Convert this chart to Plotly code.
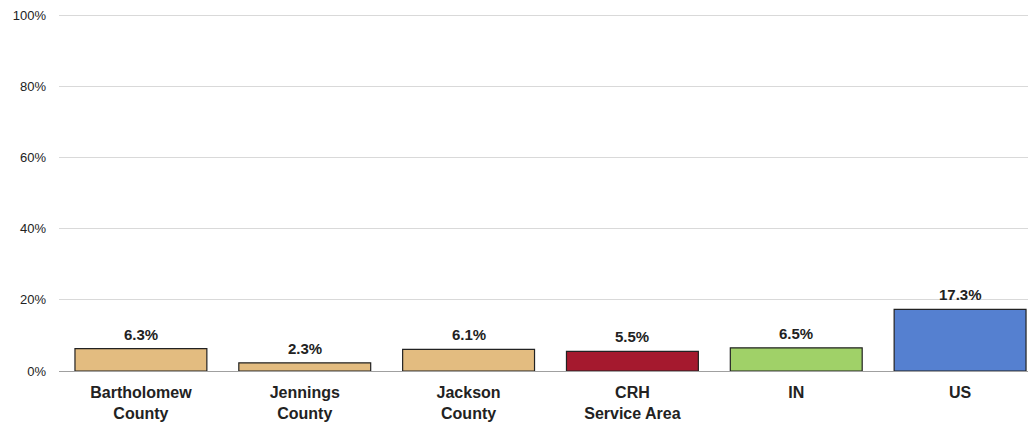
import plotly.graph_objects as go

categories = ["Bartholomew<br>County", "Jennings<br>County", "Jackson<br>County", "CRH<br>Service Area", "IN", "US"]
values = [6.3, 2.3, 6.1, 5.5, 6.5, 17.3]
colors = ["#E3BC80", "#E3BC80", "#E3BC80", "#A5192E", "#A0D168", "#5580D0"]
tick_vals = [0, 20, 40, 60, 80, 100]
tick_text = ["0%", "20%", "40%", "60%", "80%", "100%"]

fig = go.Figure(go.Bar(
    x=categories, y=values,
    marker=dict(color=colors, line=dict(color="#222222", width=1.2)),
    cliponaxis=False,
))
for c, v in zip(categories, values):
    fig.add_annotation(x=c, y=v, text=f"{v:.1f}%", showarrow=False,
                       xanchor="center", yanchor="bottom", yshift=4,
                       font=dict(family="Liberation Sans, Arial", size=15, color="#222222", weight="bold"))
fig.update_layout(
    width=1034, height=419,
    margin=dict(l=51, r=0, t=6, b=56, autoexpand=False),
    plot_bgcolor="white", paper_bgcolor="white",
    bargap=0.195, showlegend=False,
    font=dict(family="Liberation Sans, Arial", color="#222222"),
)
fig.update_yaxes(range=[0, 100.3], tickvals=tick_vals, ticktext=tick_text,
                 showgrid=True, gridcolor="#D9D9D9", gridwidth=1,
                 zeroline=True, zerolinecolor="#A0A0A0", zerolinewidth=1,
                 tickfont=dict(family="Liberation Sans, Arial", size=13, color="#222222"),
                 ticks="", ticklen=0, ticklabelstandoff=12, ticklabeloverflow="allow",
                 automargin=False)
fig.update_xaxes(tickfont=dict(family="Liberation Sans, Arial", size=16, color="#222222", weight="bold"),
                 showline=False, ticks="", ticklabelstandoff=10, automargin=False,
                 ticklabeloverflow="allow")
fig.write_html("out.html")
